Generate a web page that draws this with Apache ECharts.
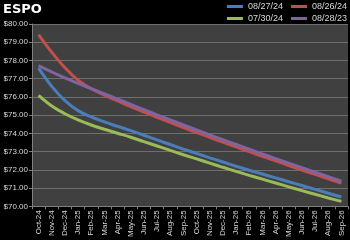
<!DOCTYPE html>
<html><head><meta charset="utf-8">
<script src="https://cdn.jsdelivr.net/npm/echarts@6/dist/echarts.min.js"></script>
<style>html,body{margin:0;padding:0;background:#000}#c{width:350px;height:240px}</style>
</head><body><div id="c"></div>
<script>
var categories = ["Oct-24","Nov-24","Dec-24","Jan-25","Feb-25","Mar-25","Apr-25","May-25","Jun-25","Jul-25","Aug-25","Sep-25","Oct-25","Nov-25","Dec-25","Jan-26","Feb-26","Mar-26","Apr-26","May-26","Jun-26","Jul-26","Aug-26","Sep-26"];
var s082724 = [77.58,76.58,75.80,75.25,74.90,74.63,74.39,74.15,73.90,73.64,73.39,73.14,72.90,72.66,72.43,72.20,71.98,71.77,71.56,71.35,71.14,70.93,70.72,70.51];
var s082624 = [79.42,78.45,77.60,76.92,76.45,76.10,75.78,75.47,75.17,74.88,74.60,74.32,74.05,73.78,73.52,73.26,73.00,72.74,72.49,72.24,71.99,71.75,71.51,71.27];
var s073024 = [76.08,75.50,75.08,74.74,74.46,74.23,74.01,73.79,73.55,73.31,73.07,72.83,72.60,72.37,72.14,71.92,71.70,71.49,71.28,71.07,70.86,70.66,70.46,70.27];
var s082823 = [77.72,77.37,77.04,76.74,76.46,76.17,75.88,75.59,75.30,75.02,74.74,74.46,74.19,73.92,73.65,73.39,73.13,72.87,72.62,72.37,72.12,71.87,71.63,71.38];
var seriesNames = ["08/27/24","08/26/24","07/30/24","08/28/23"];
var colors = ["#4a7ebb","#c0504d","#9bbb59","#8064a2"];
var data = [s082724, s082624, s073024, s082823];

var FONT = "'Liberation Sans Narrow', 'Liberation Sans', sans-serif";
var chart = echarts.init(document.getElementById('c'), null, {renderer:'canvas'});
var series = data.map(function(d,i){
  return {name: seriesNames[i], type:'line', data:d, smooth:0.4, showSymbol:false, symbol:'none',
    lineStyle:{width:3,color:colors[i]}, itemStyle:{color:colors[i]}, z: 2+i};
});
var legendCommon = {right:3, orient:'horizontal', itemWidth:16, itemHeight:3, itemGap:8, icon:'rect',
  textStyle:{color:'#d8d8d8', fontSize:9, fontFamily:FONT}, padding:0};
chart.setOption({
  backgroundColor:'#000',
  animation:false,
  color: colors,
  title:{text:'ESPO', left:3, top:3, padding:0, textStyle:{color:'#fff', fontSize:13, fontWeight:'bold', fontFamily:'DejaVu Sans'}},
  legend:[
    Object.assign({top:2, data:[seriesNames[0], seriesNames[1]]}, legendCommon),
    Object.assign({top:14, data:[seriesNames[2], seriesNames[3]]}, legendCommon)
  ],
  grid:{left:32, right:2, top:24, bottom:31, show:true, backgroundColor:'#404040', borderWidth:0},
  xAxis:{type:'category', data:categories, boundaryGap:true,
    axisLine:{lineStyle:{color:'#7f7f7f'}},
    axisTick:{show:true, length:3, lineStyle:{color:'#7f7f7f'}},
    axisLabel:{rotate:90, color:'#d8d8d8', fontSize:8, fontFamily:FONT, margin:4, interval:0}},
  yAxis:{type:'value', min:70, max:80, interval:1,
    axisLine:{show:true, lineStyle:{color:'#7f7f7f'}},
    axisTick:{show:true, length:3, lineStyle:{color:'#7f7f7f'}},
    splitLine:{lineStyle:{color:'#6e6e6e', width:1}},
    axisLabel:{color:'#d8d8d8', fontSize:8, fontFamily:FONT, margin:4,
      formatter:function(v){return '$'+v.toFixed(2);}}},
  series: series
});
</script></body></html>
